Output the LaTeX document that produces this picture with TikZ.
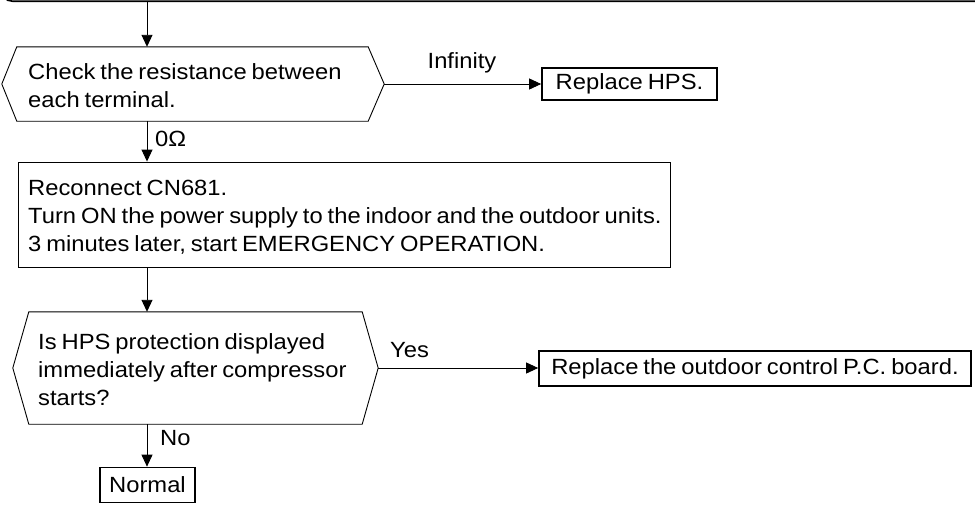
\documentclass[tikz,border=0pt]{standalone}
\usepackage{fontspec}
\setmainfont[FakeStretch=1.08, WordSpace=0.75]{Liberation Sans}
\usetikzlibrary{calc,arrows.meta}
\tikzset{
  fnt/.style={font=\fontsize{22}{28}\selectfont},
  txt/.style={fnt, inner sep=0pt, align=left},
  thinbox/.style={draw, line width=0.9pt, inner sep=0pt, fnt},
  thickbox/.style={draw, line width=1.7pt, inner sep=0pt, fnt},
  hexbox/.style={draw=none, inner sep=0pt},
  hexline/.style={line width=0.9pt},
  arr/.style={line width=0.9pt, -{Triangle[length=12pt,width=11pt]}}
}
\begin{document}
\begin{tikzpicture}[x=1pt,y=-1pt]
\useasboundingbox (0,0) rectangle (975,504);
\clip (0,0) rectangle (975,504);
% cropped box at top
\draw[line width=1.6pt, rounded corners=12pt] (0.5,-40) -- (0.5,1.2) -- (990,1.2);
\coordinate (ax) at (147,0);
\coordinate (top) at (147,2);
% hexagon 1
\node[hexbox, minimum width=351pt, minimum height=74pt] (h1) at (192.5,84) {};
\coordinate (h1L) at ($(h1.west)+(-15,0)$);
\coordinate (h1R) at ($(h1.east)+(16,0)$);
\draw[hexline] (h1.north west) -- (h1.north east) -- (h1R) -- (h1.south east) -- (h1.south west) -- (h1L) -- cycle;
\node[txt, anchor=west] (t1) at (28,86) {Check the resistance between\\each terminal.};
% replace HPS
\node[thickbox, minimum width=175pt, minimum height=32pt] (hps) at (629.5,84) {Replace HPS.};
\draw[arr] (h1R) -- (hps.west);
\node[txt] (linf) at (462,63) {Infinity};
% box 2
\node[thinbox, minimum width=652pt, minimum height=105pt] (b2) at (344,214.5) {};
\node[txt, anchor=west] (t2) at (28,217)
  {Reconnect CN681.\\Turn ON the power supply to the indoor and the outdoor units.\\3 minutes later, start EMERGENCY OPERATION.};
\draw[arr] (top) -- (h1.north -| ax);
\draw[arr] (h1.south -| ax) -- (b2.north -| ax);
\node[txt, anchor=west] (lohm) at (155,139) {0Ω};
% hexagon 2
\node[hexbox, minimum width=333pt, minimum height=112pt] (h2) at (195.5,368) {};
\coordinate (h2L) at ($(h2.west)+(-16,0)$);
\coordinate (h2R) at ($(h2.east)+(16,0)$);
\draw[hexline] (h2.north west) -- (h2.north east) -- (h2R) -- (h2.south east) -- (h2.south west) -- (h2L) -- cycle;
\node[txt, anchor=west] (t3) at (38,370) {Is HPS protection displayed\\immediately after compressor\\starts?};
\draw[arr] (b2.south -| ax) -- (h2.north -| ax);
% replace PC board
\node[thickbox, minimum width=432pt, minimum height=35pt] (pcb) at (755,368.5) {Replace the outdoor control P.C. board.};
\draw[arr] (h2R) -- (pcb.west |- h2R);
\node[txt, anchor=west] (lyes) at (390,350) {Yes};
% normal
\node[thickbox, minimum width=95pt, minimum height=35pt] (nrm) at (147.5,485) {Normal};
\draw[arr] (h2.south -| ax) -- (nrm.north -| ax);
\node[txt, anchor=west] (lno) at (160,438) {No};
\end{tikzpicture}
\end{document}
